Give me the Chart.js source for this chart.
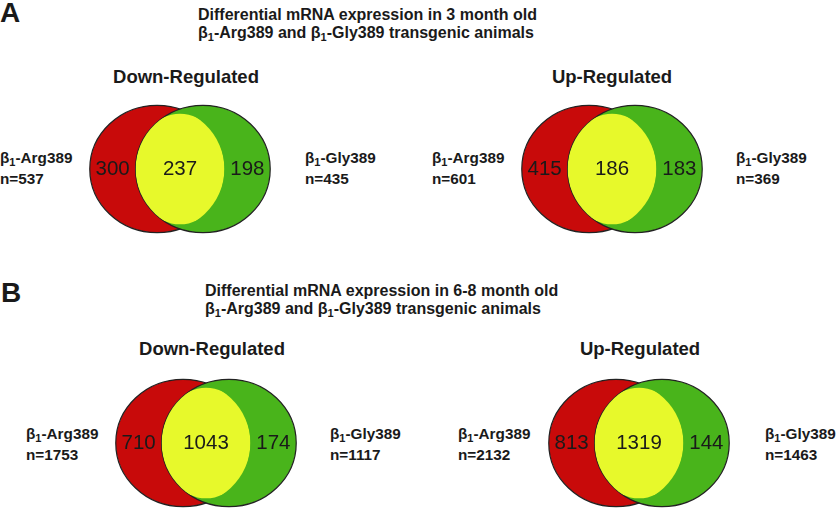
<!DOCTYPE html>
<html>
<head>
<meta charset="utf-8">
<script src="https://cdn.jsdelivr.net/npm/chart.js@4.4.1/dist/chart.umd.min.js"></script>
<style>
  body { margin: 0; background: #fff; }
  #page { position: relative; width: 837px; height: 512px; overflow: hidden;
          font-family: "Liberation Sans", Arial, sans-serif; color: #1a1a1a; }
  .t { position: absolute; white-space: nowrap; font-weight: bold; }
  .panel { font-size: 28px; line-height: 28px; }
  .head { font-size: 16px; line-height: 18px; }
  .sub { font-size: 18.5px; line-height: 22px; transform: translateX(-50%); }
  .lab { font-size: 15.3px; line-height: 19px; }
  .s { font-size: 11px; position: relative; top: 3px; }
  canvas { position: absolute; }
</style>
</head>
<body>
<div id="page"></div>
<script>
document.addEventListener("DOMContentLoaded", function() {
    // values
    const panelLetters = ['A', 'B'];
    const ageText = ['3 month old', '6-8 month old'];
    const regulation = ['Down-Regulated', 'Up-Regulated', 'Down-Regulated', 'Up-Regulated'];
    const argOnly = [300, 415, 710, 813];
    const shared = [237, 186, 1043, 1319];
    const glyOnly = [198, 183, 174, 144];
    const argTotal = [537, 601, 1753, 2132];
    const glyTotal = [435, 369, 1117, 1463];
    const groupNames = ['Arg389', 'Gly389'];

    const RED = '#c80a0a';
    const GREEN = '#49b41b';
    const YELLOW = '#e7f92b';

    const page = document.getElementById('page');

    function addText(cls, html, left, top) {
        let d = document.createElement('div');
        d.className = 't ' + cls;
        d.innerHTML = html;
        d.style.left = left + 'px';
        d.style.top = top + 'px';
        page.appendChild(d);
        return d;
    }
    const beta = name => 'β<span class="s">1</span>-' + name;

    // layout of the four venn panels
    const venns = [
        { left: 79, top: 99, subX: 186, subY: 66, labL: 0, labR: 305, labY: 148 },
        { left: 511, top: 99, subX: 612, subY: 66, labL: 432, labR: 736, labY: 148 },
        { left: 105, top: 373, subX: 212, subY: 338, labL: 26, labR: 330, labY: 424 },
        { left: 538, top: 373, subX: 640, subY: 338, labL: 458, labR: 765, labY: 424 }
    ];
    const heads = [{ x: 198, y: 6 }, { x: 205, y: 282 }];
    const letters = [{ x: 0, y: -1 }, { x: 1, y: 279 }];

    panelLetters.forEach((p, i) => {
        addText('panel', p, letters[i].x, letters[i].y);
        addText('head', 'Differential mRNA expression in ' + ageText[i], heads[i].x, heads[i].y);
        addText('head', beta(groupNames[0]) + ' and ' + beta(groupNames[1]) + ' transgenic animals',
            heads[i].x, heads[i].y + 18);
    });

    const vennPlugin = {
        id: 'venn',
        afterDatasetsDraw(chart, args, opts) {
            const ctx = chart.ctx;
            const xs = chart.scales.x, ys = chart.scales.y;
            const toPx = pt => {
                let cx = xs.getPixelForValue(pt.x);
                let cy = ys.getPixelForValue(pt.y);
                return {
                    cx: cx, cy: cy,
                    rx: xs.getPixelForValue(pt.x + pt.rx) - cx,
                    ry: cy - ys.getPixelForValue(pt.y + pt.ry)
                };
            };
            const circles = chart.data.datasets.slice(0, 2).map(ds => {
                let c = toPx(ds.data[0]);
                c.color = ds.backgroundColor;
                return c;
            });
            const path = c => {
                ctx.beginPath();
                ctx.ellipse(c.cx, c.cy, c.rx, c.ry, 0, 0, Math.PI * 2);
            };
            ctx.save();
            ctx.strokeStyle = '#222';
            ctx.lineWidth = 1.2;
            circles.forEach(c => {
                path(c);
                ctx.fillStyle = c.color;
                ctx.fill();
                ctx.stroke();
            });
            // overlap shown as a rounded yellow core inside the lens
            path(circles[0]);
            ctx.clip();
            path(circles[1]);
            ctx.clip();
            path(toPx(opts.core));
            ctx.fillStyle = YELLOW;
            ctx.fill();
            ctx.restore();

            // counts
            const counts = chart.data.datasets[2];
            ctx.save();
            ctx.fillStyle = '#1a1a1a';
            ctx.font = '20.5px "Liberation Sans", Arial, sans-serif';
            ctx.textAlign = 'center';
            ctx.textBaseline = 'middle';
            counts.data.forEach(pt => {
                ctx.fillText(String(pt.v), xs.getPixelForValue(pt.x), ys.getPixelForValue(pt.y));
            });
            ctx.restore();
        }
    };

    venns.forEach((v, i) => {
        addText('sub', regulation[i], v.subX, v.subY);
        addText('lab', beta(groupNames[0]) + '<br>n=' + argTotal[i], v.labL, v.labY);
        addText('lab', beta(groupNames[1]) + '<br>n=' + glyTotal[i], v.labR, v.labY);

        let cv = document.createElement('canvas');
        cv.width = 202;
        cv.height = 140;
        cv.style.left = v.left + 'px';
        cv.style.top = v.top + 'px';
        page.appendChild(cv);

        const shift = 0.34;
        new Chart(cv.getContext('2d'), {
            type: 'scatter',
            data: {
                datasets: [
                    { label: 'β1-' + groupNames[0], data: [{ x: -shift, y: 0, rx: 1, ry: 1 }], backgroundColor: RED, pointRadius: 0 },
                    { label: 'β1-' + groupNames[1], data: [{ x: shift, y: 0, rx: 1, ry: 1 }], backgroundColor: GREEN, pointRadius: 0 },
                    { label: 'counts', pointRadius: 0, data: [
                        { x: -1, y: 0, v: argOnly[i] },
                        { x: 0, y: 0, v: shared[i] },
                        { x: 1, y: 0, v: glyOnly[i] }
                    ] }
                ]
            },
            options: {
                responsive: false,
                animation: false,
                layout: { padding: 0 },
                plugins: {
                    legend: { display: false },
                    tooltip: { enabled: false },
                    venn: { core: { x: 0, y: 0, rx: 1 - shift, ry: 0.87 } }
                },
                scales: {
                    x: { type: 'linear', min: -1.5, max: 1.5, display: false },
                    y: { type: 'linear', min: -1.1, max: 1.1, display: false }
                }
            },
            plugins: [vennPlugin]
        });
    });
});
</script>
</body>
</html>
